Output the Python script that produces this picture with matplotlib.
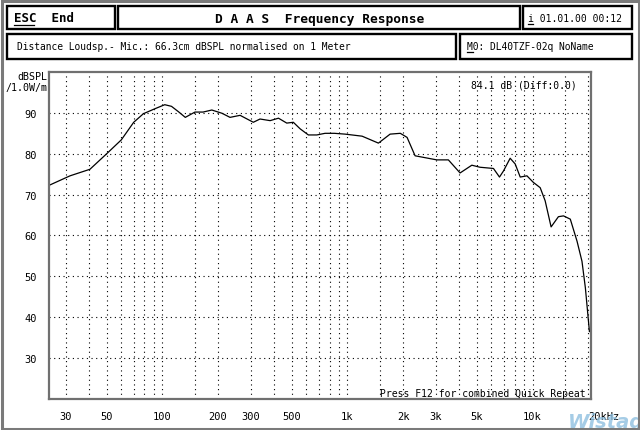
import matplotlib
matplotlib.use("Agg")
import matplotlib.pyplot as plt
from matplotlib.patches import Rectangle
from matplotlib.lines import Line2D

freq = [24.5, 31.7, 40.6, 50, 60, 70, 79, 91, 103, 112, 122, 133, 150, 166, 185,
        210, 232, 263, 310, 337, 382, 424, 470, 510, 555, 615, 683, 757, 850, 972,
        1200, 1470, 1700, 1930, 2100, 2320, 3040, 3510, 4060, 4700, 5200, 6150,
        6630, 6970, 7570, 8060, 8580, 9330, 10100, 11000, 11700, 12600, 13800,
        14700, 16000, 17400, 18500, 19300, 20300]
spl = [72.3, 74.6, 76.2, 80, 83.4, 87.7, 89.8, 91, 92, 91.6, 90.3, 88.9, 90.2,
       90.2, 90.7, 89.9, 88.9, 89.4, 87.7, 88.5, 88.1, 88.7, 87.5, 87.7, 86.1,
       84.6, 84.6, 85, 85, 84.8, 84.3, 82.6, 84.8, 85, 84, 79.5, 78.5, 78.5, 75.3,
       77.2, 76.7, 76.4, 74.3, 75.8, 78.9, 77.5, 74.3, 74.6, 73, 71.7, 68.5, 62.1,
       64.6, 64.8, 64, 58.6, 53.7, 47.2, 36.5]

x_ticks = [30, 50, 100, 200, 300, 500, 1000, 2000, 3000, 5000, 10000, 20000]
x_labels = ["30", "50", "100", "200", "300", "500", "1k", "2k", "3k", "5k", "10k", "20kHz"]
x_grid = [30, 40, 50, 60, 70, 80, 90, 100, 150, 200, 300, 400, 500, 600, 700,
          800, 900, 1000, 1500, 2000, 3000, 4000, 5000, 6000, 7000, 8000, 9000,
          10000, 15000, 20000]
y_ticks = [30, 40, 50, 60, 70, 80, 90]

W, H = 640, 431
MONO = "DejaVu Sans Mono"


def fx(x):
    return x / W


def fy(y):
    return 1 - y / H


fig = plt.figure(figsize=(6.4, 4.31), dpi=100)
fig.patch.set_facecolor("white")

# outer dithered border
fig.add_artist(Rectangle((fx(1.5), fy(429.5)), fx(637), 427.5 / H, transform=fig.transFigure,
                         fill=False, ec="#7a7a7a", lw=2.2))


def box(x0, y0, x1, y1):
    fig.add_artist(Rectangle((fx(x0), fy(y1)), fx(x1 - x0), (y1 - y0) / H,
                             transform=fig.transFigure, fill=False, ec="black", lw=1.7))


def underline(x0, x1, y):
    fig.add_artist(Line2D([fx(x0), fx(x1)], [fy(y), fy(y)], transform=fig.transFigure,
                          color="black", lw=0.9))


# header boxes
box(7, 7, 115, 30)
box(118, 7, 520, 30)
box(523, 7, 632, 30)
box(7, 35, 456, 60)
box(460, 35, 632, 60)

fig.text(fx(14), fy(19), "ESC  End", family=MONO, weight="bold", fontsize=9, va="center")
underline(14, 34, 26)
fig.text(fx(320), fy(19), "D A A S  Frequency Response", family=MONO, weight="bold",
         fontsize=9.3, va="center", ha="center")
fig.text(fx(528), fy(19), "i 01.01.00 00:12", family=MONO, fontsize=7.0, va="center")
underline(528, 533, 25)
fig.text(fx(17), fy(47), "Distance Loudsp.- Mic.: 66.3cm dBSPL normalised on 1 Meter",
         family=MONO, fontsize=6.9, va="center")
fig.text(fx(467), fy(47), "M0: DL40TZF-02q NoName", family=MONO, fontsize=6.9, va="center")
underline(467, 473, 53)

# plot area
ax = fig.add_axes([fx(49), fy(400), fx(591 - 49), (400 - 73) / H])
ax.plot(freq, spl, color="black", lw=0.9)
ax.set_xscale("log")
ax.set_xlim(24.4, 20700)
ax.set_ylim(20, 100)

for f in x_grid:
    ax.axvline(f, color="black", lw=0.8, ls=(0, (1, 3.2)), zorder=0)
for v in y_ticks:
    ax.axhline(v, color="black", lw=0.8, ls=(0, (1, 3.2)), zorder=0)

ax.xaxis.set_minor_locator(matplotlib.ticker.NullLocator())
ax.set_xticks(x_ticks)
ax.set_xticklabels(x_labels)
ax.set_yticks(y_ticks)
ax.tick_params(length=0, labelsize=7.5, pad=9)
for lab in ax.get_xticklabels() + ax.get_yticklabels():
    lab.set_family(MONO)
ax.get_xticklabels()[-1].set_horizontalalignment("left")
for s in ax.spines.values():
    s.set_color("#707070")
    s.set_linewidth(1.6)

fig.text(fx(47), fy(77), "dBSPL", family=MONO, fontsize=7.2, ha="right", va="center")
fig.text(fx(47), fy(88), "/1.0W/m", family=MONO, fontsize=7.2, ha="right", va="center")

fig.text(fx(471), fy(85), "84.1 dB (Diff:0.0)", family=MONO, fontsize=7.0, va="center")
fig.text(fx(380), fy(394), "Press F12 for combined Quick Repeat", family=MONO,
         fontsize=7.0, va="center")

# watermark
fig.text(fx(568), fy(423), "Wistago", fontsize=14, weight="bold", style="italic",
         color="#8fc0e0", va="center", alpha=0.8, zorder=0)

fig.savefig("out.png", dpi=100)
